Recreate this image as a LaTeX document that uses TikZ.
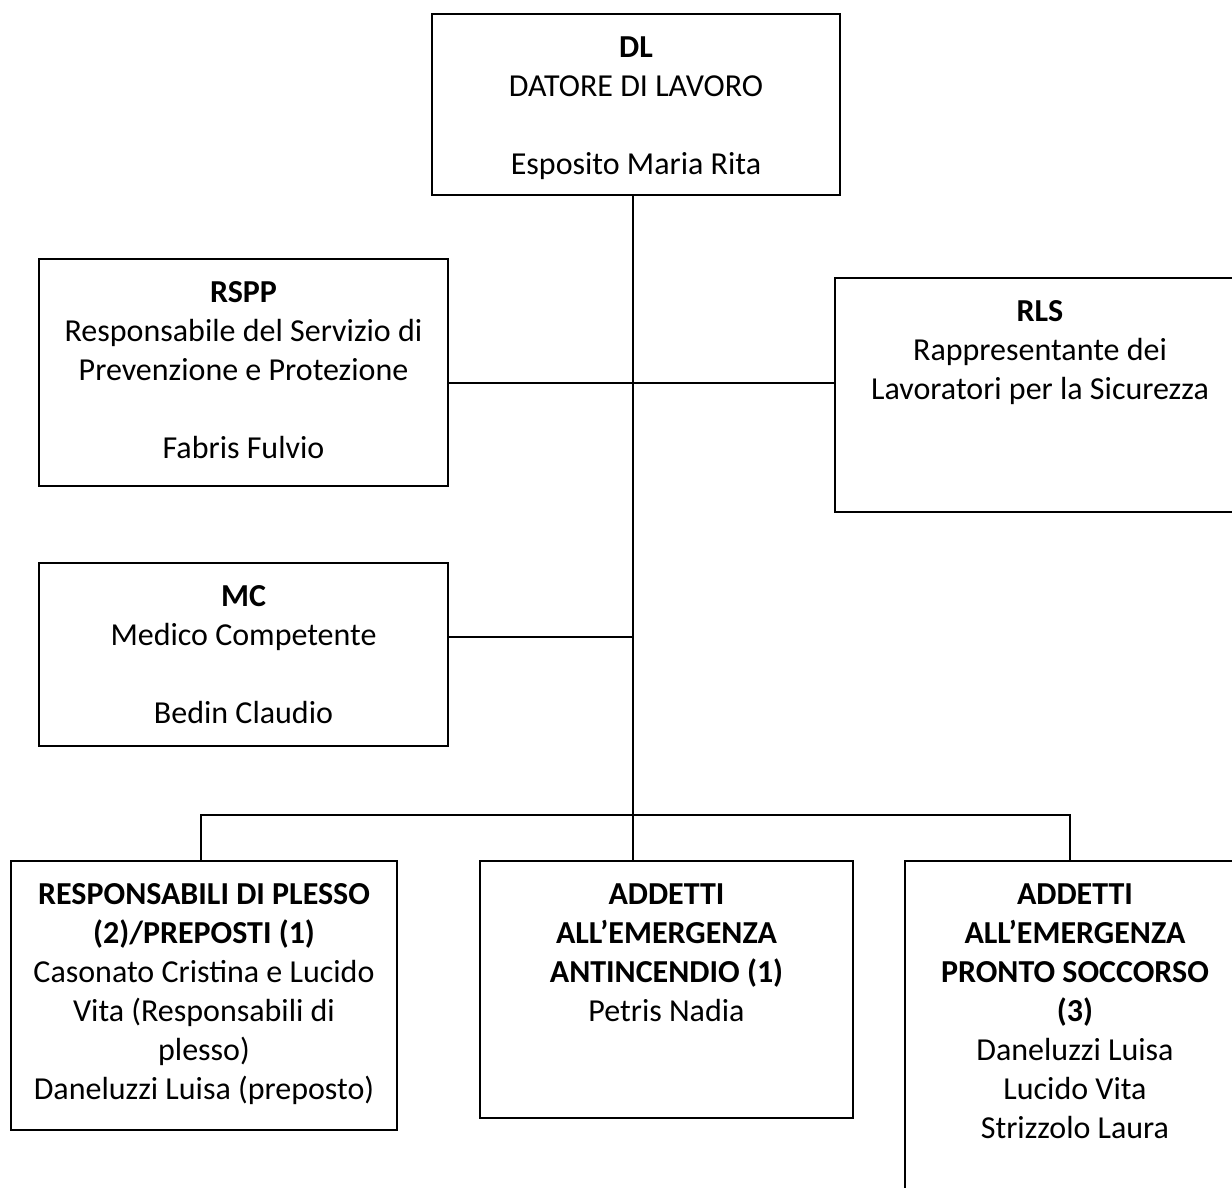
\documentclass[tikz,border=0pt]{standalone}
\usepackage{fontspec}
\setmainfont{Carlito}
\begin{document}
\begin{tikzpicture}[x=1pt,y=-1pt,
  box/.style={draw,line width=1.8pt,inner sep=0pt,outer sep=0pt},
  txt/.style={align=center,inner sep=0pt,anchor=north,font=\fontsize{32}{39}\selectfont},
  conn/.style={line width=1.3pt}]
\useasboundingbox (0,0) rectangle (1232,1187);
\clip (0,0) rectangle (1232,1187);
% boxes
\node[box,minimum width=408pt,minimum height=181pt] (dl) at (636,104.5) {};
\node[box,minimum width=409pt,minimum height=227pt] (rspp) at (243.5,372.5) {};
\node[box,minimum width=410pt,minimum height=234pt] (rls) at (1040,395) {};
\node[box,minimum width=409pt,minimum height=183pt] (mc) at (243.5,654.5) {};
\node[box,minimum width=386pt,minimum height=269pt] (lb) at (204,995.5) {};
\node[box,minimum width=373pt,minimum height=257pt] (mb) at (666.5,989.5) {};
\node[box,minimum width=340pt,minimum height=400pt] (rb) at (1075,1061) {};
% texts
\node[txt] (dlt) at ([yshift=-16pt]dl.north) {\strut\textbf{DL}\\DATORE DI LAVORO\\[39pt]Esposito Maria Rita};
\node[txt] (rsppt) at ([yshift=-16pt]rspp.north) {\strut\textbf{RSPP}\\Responsabile del Servizio di\\Prevenzione e Protezione\\[39pt]Fabris Fulvio};
\node[txt] (rlst) at ([yshift=-16pt]rls.north) {\strut\textbf{RLS}\\Rappresentante dei\\Lavoratori per la Sicurezza};
\node[txt] (mct) at ([yshift=-16pt]mc.north) {\strut\textbf{MC}\\Medico Competente\\[39pt]Bedin Claudio};
\node[txt] (lbt) at ([yshift=-16pt]lb.north) {\strut\textbf{RESPONSABILI DI PLESSO}\\\textbf{(2)/PREPOSTI (1)}\\Casonato Cristina e Lucido\\Vita (Responsabili di\\plesso)\\Daneluzzi Luisa (preposto)};
\node[txt] (mbt) at ([yshift=-16pt]mb.north) {\strut\textbf{ADDETTI}\\\textbf{ALL’EMERGENZA}\\\textbf{ANTINCENDIO (1)}\\Petris Nadia};
\node[txt] (rbt) at ([yshift=-16pt]rb.north) {\strut\textbf{ADDETTI}\\\textbf{ALL’EMERGENZA}\\\textbf{PRONTO SOCCORSO}\\\textbf{(3)}\\Daneluzzi Luisa\\Lucido Vita\\Strizzolo Laura};
% connector coordinates
\coordinate (tx) at (633,0);
\coordinate (ya) at (0,383);
\coordinate (yb) at (0,637);
\coordinate (bus) at (0,815);
\coordinate (lx) at (201,0);
\coordinate (rx) at (1070,0);
% connectors
\draw[conn] (dl.south -| tx) -- (mb.north -| tx);
\draw[conn] (rspp.east |- ya) -- (rls.west |- ya);
\draw[conn] (mc.east |- yb) -- (tx |- yb);
\draw[conn] (lb.north -| lx) -- (lx |- bus) -- (rx |- bus) -- (rb.north -| rx);
\end{tikzpicture}
\end{document}
